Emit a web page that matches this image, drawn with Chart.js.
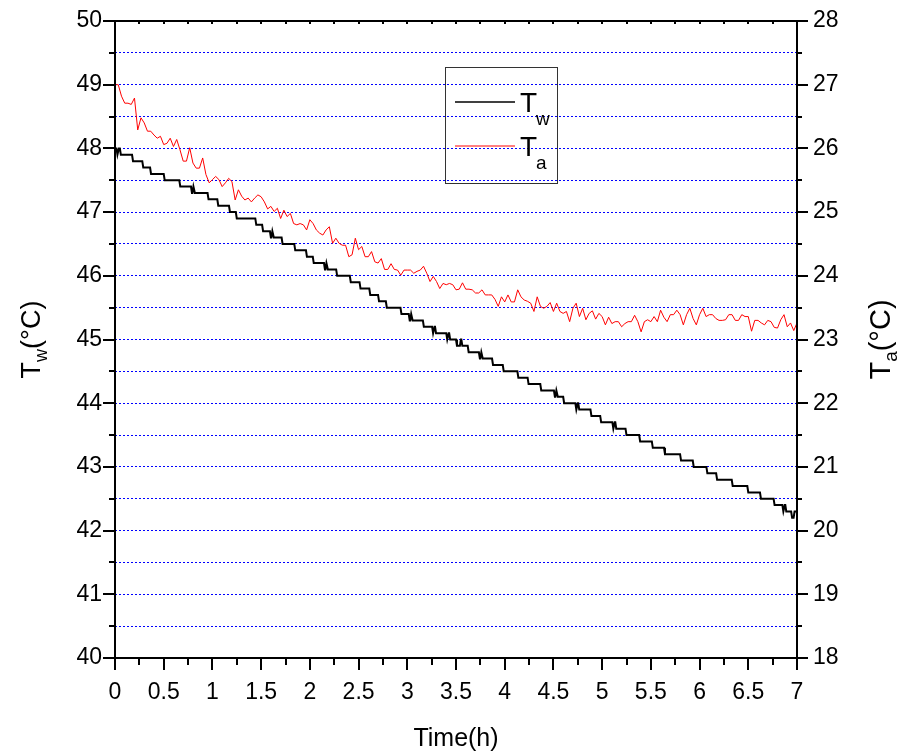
<!DOCTYPE html>
<html>
<head>
<meta charset="utf-8">
<script src="https://cdn.jsdelivr.net/npm/chart.js@4.4.1/dist/chart.umd.min.js"></script>
<style>
  html, body { margin: 0; padding: 0; background: #ffffff; }
  #wrap { width: 903px; height: 756px; }
</style>
</head>
<body>
<div id="wrap"><canvas id="chart" width="903" height="756"></canvas></div>
<script>
// Water temperature Tw: time (h) at which each 0.1 °C reading starts
const twTime = [
  0, 0.025, 0.04, 0.06, 0.185, 0.29, 0.37, 0.51, 0.67, 0.79, 0.805, 0.82,
  0.96, 1.06, 1.18, 1.25, 1.45, 1.52, 1.60, 1.615, 1.63, 1.72, 1.85, 1.97,
  2.04, 2.155, 2.17, 2.185, 2.28, 2.42, 2.52, 2.62, 2.71, 2.79, 2.94, 3.025,
  3.04, 3.055, 3.17, 3.265, 3.28, 3.295, 3.41, 3.425, 3.44, 3.51, 3.55, 3.565,
  3.63, 3.745, 3.76, 3.775, 3.88, 3.99, 4.14, 4.245, 4.375, 4.515, 4.53, 4.545,
  4.61, 4.735, 4.75, 4.765, 4.89, 4.99, 5.115, 5.13, 5.145, 5.25, 5.39, 5.52,
  5.645, 5.81, 5.94, 6.08, 6.18, 6.34, 6.50, 6.63, 6.77, 6.86, 6.875, 6.89,
  6.95, 6.975, 7.0
];
const twValue = [
  48.0, 47.9, 48.0, 47.9, 47.8, 47.7, 47.6, 47.5, 47.4, 47.3, 47.4, 47.3,
  47.2, 47.1, 47.0, 46.9, 46.8, 46.7, 46.6, 46.7, 46.6, 46.5, 46.4, 46.3,
  46.2, 46.1, 46.2, 46.1, 46.0, 45.9, 45.8, 45.7, 45.6, 45.5, 45.4, 45.3,
  45.4, 45.3, 45.2, 45.1, 45.2, 45.1, 45.0, 45.1, 45.0, 44.9, 45.0, 44.9,
  44.8, 44.7, 44.8, 44.7, 44.6, 44.5, 44.4, 44.3, 44.2, 44.1, 44.2, 44.1,
  44.0, 43.9, 44.0, 43.9, 43.8, 43.7, 43.6, 43.7, 43.6, 43.5, 43.4, 43.3,
  43.2, 43.1, 43.0, 42.9, 42.8, 42.7, 42.6, 42.5, 42.4, 42.3, 42.4, 42.3,
  42.2, 42.3, 42.3
];
// the logger needs about this long to register a new reading
const twSettleHours = 0.01;

// Air temperature Ta, logged every 2 minutes from t = 0 to t = 7 h
const taIntervalHours = 2 / 60;
const taValue = [
  27.00, 27.00, 26.82, 26.71, 26.71, 26.69, 26.79, 26.29, 26.48, 26.40,
  26.27, 26.27, 26.21, 26.16, 26.19, 26.06, 26.08, 26.16, 26.03, 26.14,
  25.98, 25.80, 25.80, 26.01, 25.77, 25.69, 25.69, 25.85, 25.59, 25.46,
  25.51, 25.56, 25.51, 25.40, 25.46, 25.53, 25.48, 25.19, 25.35, 25.25,
  25.19, 25.22, 25.16, 25.22, 25.27, 25.24, 25.16, 25.05, 25.09, 25.01,
  25.06, 24.90, 25.03, 24.93, 24.98, 24.82, 24.80, 24.82, 24.80, 24.72,
  24.88, 24.82, 24.72, 24.67, 24.64, 24.72, 24.77, 24.51, 24.59, 24.51,
  24.48, 24.48, 24.30, 24.33, 24.59, 24.41, 24.46, 24.30, 24.30, 24.38,
  24.22, 24.20, 24.27, 24.10, 24.10, 24.19, 24.10, 24.09, 24.01, 24.09,
  24.09, 24.09, 24.04, 24.07, 24.09, 24.15, 24.04, 23.91, 23.99, 23.91,
  23.80, 23.88, 23.86, 23.88, 23.86, 23.78, 23.79, 23.89, 23.79, 23.79,
  23.78, 23.73, 23.73, 23.78, 23.70, 23.70, 23.70, 23.63, 23.52, 23.67,
  23.59, 23.70, 23.59, 23.59, 23.78, 23.67, 23.62, 23.60, 23.57, 23.44,
  23.67, 23.52, 23.49, 23.52, 23.58, 23.44, 23.57, 23.44, 23.41, 23.44,
  23.28, 23.49, 23.57, 23.36, 23.49, 23.31, 23.41, 23.45, 23.32, 23.41,
  23.36, 23.23, 23.35, 23.25, 23.28, 23.28, 23.20, 23.25, 23.28, 23.28,
  23.38, 23.28, 23.12, 23.28, 23.31, 23.28, 23.36, 23.28, 23.46, 23.35,
  23.28, 23.39, 23.39, 23.46, 23.39, 23.23, 23.39, 23.49, 23.33, 23.23,
  23.39, 23.49, 23.36, 23.39, 23.39, 23.33, 23.30, 23.30, 23.31, 23.39,
  23.39, 23.30, 23.30, 23.39, 23.36, 23.36, 23.13, 23.30, 23.30, 23.26,
  23.23, 23.30, 23.28, 23.19, 23.18, 23.31, 23.39, 23.20, 23.26, 23.14,
  23.26
];

// Axis ticks
const timeTicks = [0, 0.5, 1, 1.5, 2, 2.5, 3, 3.5, 4, 4.5, 5, 5.5, 6, 6.5, 7];
const twTicks = [40, 40.5, 41, 41.5, 42, 42.5, 43, 43.5, 44, 44.5, 45, 45.5,
                 46, 46.5, 47, 47.5, 48, 48.5, 49, 49.5, 50];
const taTicks = [18, 19, 20, 21, 22, 23, 24, 25, 26, 27, 28];

const FONT = '"Liberation Sans", Arial, Helvetica, sans-serif';

// each Tw reading is held until just before the next one starts
const twPoints = [];
twTime.forEach((t, i) => {
  twPoints.push({ x: t, y: twValue[i] });
  if (i < twTime.length - 1) {
    const hold = Math.max(t + 0.002, twTime[i + 1] - twSettleHours);
    twPoints.push({ x: hold, y: twValue[i] });
  }
});
const taPoints = taValue.map((v, i) => ({ x: i * taIntervalHours, y: v }));

// Frame, tick marks, legend and axis titles (with subscripts)
const decorations = {
  id: 'decorations',
  afterDraw(chart) {
    const { ctx, chartArea: a, scales } = chart;
    const xs = scales.x, yl = scales.y, yr = scales.y2;
    const cfg = chart.options.plugins.decorations;
    ctx.save();

    // plot frame
    ctx.strokeStyle = '#000';
    ctx.lineWidth = 2;
    ctx.strokeRect(a.left, a.top, a.right - a.left, a.bottom - a.top);

    ctx.beginPath();
    // left axis: majors every 1 °C, minors every 0.5 °C
    for (let v = yl.min; v <= yl.max + 1e-9; v += 0.5) {
      const py = Math.round(yl.getPixelForValue(v));
      const len = Math.abs(v - Math.round(v)) < 1e-9 ? 12 : 6;
      ctx.moveTo(a.left, py); ctx.lineTo(a.left - len, py);
    }
    // right axis
    for (let v = yr.min; v <= yr.max + 1e-9; v += 0.5) {
      const py = Math.round(yr.getPixelForValue(v));
      const len = Math.abs(v - Math.round(v)) < 1e-9 ? 11 : 5;
      ctx.moveTo(a.right, py); ctx.lineTo(a.right + len, py);
    }
    // bottom (outward) and top (inward) axes
    for (let t = xs.min; t <= xs.max + 1e-9; t += 0.25) {
      const px = Math.round(xs.getPixelForValue(t));
      const major = Math.abs(t * 2 - Math.round(t * 2)) < 1e-9;
      ctx.moveTo(px, a.bottom); ctx.lineTo(px, a.bottom + (major ? 12 : 7));
      ctx.moveTo(px, a.top); ctx.lineTo(px, a.top + 3);
    }
    ctx.stroke();

    // text with a subscript: [main, sub, tail], centred on cx
    function drawSub(parts, big, small, drop, cx, baseY) {
      ctx.font = big + 'px ' + FONT;
      const w0 = ctx.measureText(parts[0]).width;
      const w2 = ctx.measureText(parts[2]).width;
      ctx.font = small + 'px ' + FONT;
      const w1 = ctx.measureText(parts[1]).width;
      let x = cx - (w0 + w1 + w2) / 2;
      ctx.textAlign = 'left';
      ctx.textBaseline = 'alphabetic';
      ctx.font = big + 'px ' + FONT;
      ctx.fillText(parts[0], x, baseY);
      x += w0;
      ctx.font = small + 'px ' + FONT;
      ctx.fillText(parts[1], x, baseY + drop);
      x += w1;
      ctx.font = big + 'px ' + FONT;
      ctx.fillText(parts[2], x, baseY);
    }
    ctx.fillStyle = '#000';

    // y-axis titles, rotated to read bottom to top
    const midY = (a.top + a.bottom) / 2;
    [[cfg.leftTitle, 30, midY, 27, 18], [cfg.rightTitle, 880, midY, 29, 19]]
      .forEach(([parts, cx, cy, big, small]) => {
        ctx.save();
        ctx.translate(cx, cy);
        ctx.rotate(-Math.PI / 2);
        drawSub(parts, big, small, 7, 0, 10);
        ctx.restore();
      });

    // x-axis title
    ctx.font = '25px ' + FONT;
    ctx.textAlign = 'center';
    ctx.textBaseline = 'alphabetic';
    ctx.fillText(cfg.xTitle, (a.left + a.right) / 2, 746);

    // legend
    const box = { l: 445.5, t: 67.5, r: 557.5, b: 183.5 };
    ctx.lineWidth = 1;
    ctx.strokeStyle = '#333';
    ctx.strokeRect(box.l, box.t, box.r - box.l, box.b - box.t);
    const rows = [102, 146];
    chart.data.datasets.forEach((ds, i) => {
      const y = rows[i];
      ctx.beginPath();
      ctx.strokeStyle = ds.borderColor;
      ctx.lineWidth = Math.min(ds.borderWidth, 1.5);
      ctx.moveTo(455, y); ctx.lineTo(515, y);
      ctx.stroke();
      const [main, sub] = ds.label.split('_');
      ctx.fillStyle = '#000';
      ctx.textAlign = 'left';
      ctx.textBaseline = 'alphabetic';
      ctx.font = '28px ' + FONT;
      ctx.fillText(main, 520, y + 10);
      const mw = ctx.measureText(main).width;
      ctx.font = '19px ' + FONT;
      ctx.fillText(sub, 519 + mw, y + 23);
    });

    ctx.restore();
  }
};

new Chart(document.getElementById('chart'), {
  type: 'line',
  data: {
    datasets: [
      {
        label: 'T_w',
        data: twPoints,
        yAxisID: 'y',
        borderColor: '#000000',
        borderWidth: 2,
        pointRadius: 0,
        tension: 0,
        fill: false
      },
      {
        label: 'T_a',
        data: taPoints,
        yAxisID: 'y2',
        borderColor: '#ff0000',
        borderWidth: 1,
        pointRadius: 0,
        tension: 0,
        fill: false
      }
    ]
  },
  options: {
    responsive: false,
    devicePixelRatio: 1,
    animation: false,
    events: [],
    layout: { padding: { top: 21, left: 0, right: 0, bottom: 0 } },
    scales: {
      x: {
        type: 'linear',
        position: 'bottom',
        min: 0,
        max: 7,
        afterBuildTicks: s => { s.ticks = timeTicks.map(v => ({ value: v })); },
        afterFit: s => { s.height = 98; s.paddingLeft = 0; s.paddingRight = 0; },
        ticks: {
          autoSkip: false,
          maxRotation: 0,
          padding: 21,
          color: '#000',
          font: { family: FONT, size: 23 },
          callback: v => String(v)
        },
        grid: { display: false, drawTicks: false },
        border: { display: false }
      },
      y: {
        type: 'linear',
        position: 'left',
        min: 40,
        max: 50,
        afterBuildTicks: s => { s.ticks = twTicks.map(v => ({ value: v })); },
        afterFit: s => { s.width = 115; s.paddingTop = 0; s.paddingBottom = 0; },
        ticks: {
          autoSkip: false,
          padding: 13,
          color: '#000',
          font: { family: FONT, size: 23 },
          callback: v => (Number.isInteger(v) ? String(v) : '')
        },
        grid: {
          drawTicks: false,
          lineWidth: 1,
          color: c => (c.tick && (c.tick.value === 40 || c.tick.value === 50)) ? 'rgba(0,0,0,0)' : '#0000ff'
        },
        border: { display: false, dash: [2, 2] }
      },
      y2: {
        type: 'linear',
        position: 'right',
        min: 18,
        max: 28,
        afterBuildTicks: s => { s.ticks = taTicks.map(v => ({ value: v })); },
        afterFit: s => { s.width = 106; s.paddingTop = 0; s.paddingBottom = 0; },
        ticks: {
          autoSkip: false,
          padding: 16,
          color: '#000',
          font: { family: FONT, size: 23 },
          callback: v => String(v)
        },
        grid: { display: false, drawTicks: false },
        border: { display: false }
      }
    },
    plugins: {
      legend: { display: false },
      tooltip: { enabled: false },
      decorations: {
        leftTitle: ['T', 'w', '(\u00B0C)'],
        rightTitle: ['T', 'a', '(\u00B0C)'],
        xTitle: 'Time(h)'
      }
    }
  },
  plugins: [decorations]
});
</script>
</body>
</html>
